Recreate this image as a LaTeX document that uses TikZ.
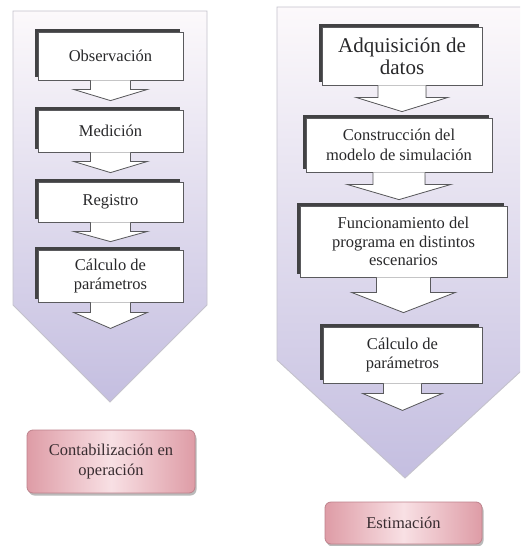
\documentclass[tikz,border=0pt]{standalone}
\usepackage{fontspec}
\setmainfont{Liberation Serif}
\usetikzlibrary{calc,shadows}

\definecolor{panelTop}{RGB}{252,249,251}
\definecolor{panelBottom}{RGB}{196,190,224}
\definecolor{panelEdge}{RGB}{196,194,204}
\definecolor{stepShadow}{RGB}{66,66,68}
\definecolor{stepEdge}{RGB}{90,90,93}
\definecolor{inkGrey}{RGB}{40,40,42}
\definecolor{roseEdge}{RGB}{190,130,140}
\definecolor{roseDark}{RGB}{222,156,166}
\definecolor{roseLight}{RGB}{248,224,228}
\definecolor{roseInk}{RGB}{56,44,48}

\tikzset{
  x=1pt, y=-1pt,
  panel/.style={draw=panelEdge, line width=0.9pt, top color=panelTop, bottom color=panelBottom},
  stepbox/.style={draw=stepEdge, line width=0.8pt, fill=white, text=inkGrey,
    align=center, inner sep=0pt, font=\fontsize{16.5}{19.5}\selectfont,
    drop shadow={shadow xshift=-3.5pt, shadow yshift=3.5pt, fill=stepShadow, opacity=1}},
  bigtext/.style={font=\fontsize{21}{22}\selectfont},
  resultbox/.style={draw=roseEdge, line width=0.8pt, rounded corners=6pt,
    left color=roseDark, right color=roseDark, middle color=roseLight,
    text=roseInk, align=center, inner sep=0pt, font=\fontsize{16.5}{20}\selectfont,
    drop shadow={shadow xshift=1.5pt, shadow yshift=-2.5pt, fill=black!45, opacity=0.6}},
  flowfill/.style={fill=white},
  flowedge/.style={draw=stepEdge, line width=0.8pt, line join=miter},
  flowshadow/.style={fill=stepShadow},
}

% block arrow hanging below node #1, tip at coordinate #2,
% shaft half-width #3, head half-width #4, shaft length #5
\newcommand{\stepflow}[5]{%
  \fill[flowshadow, xshift=-3.5pt, yshift=3pt] let \p1=(#1.south), \p2=(#2) in
    (\x1-#3pt,\y1-3pt) -- (\x1-#3pt,\y1-#5pt) -- (\x1-#4pt,\y1-#5pt) -- (\x1,\y2)
    -- (\x1+#4pt,\y1-#5pt) -- (\x1+#3pt,\y1-#5pt) -- (\x1+#3pt,\y1-3pt) -- cycle;
  \fill[flowfill] let \p1=(#1.south), \p2=(#2) in
    (\x1-#3pt,\y1) -- (\x1-#3pt,\y1-#5pt) -- (\x1-#4pt,\y1-#5pt) -- (\x1,\y2)
    -- (\x1+#4pt,\y1-#5pt) -- (\x1+#3pt,\y1-#5pt) -- (\x1+#3pt,\y1) -- cycle;
  \draw[flowedge] let \p1=(#1.south), \p2=(#2) in
    (\x1-#3pt,\y1) -- (\x1-#3pt,\y1-#5pt) -- (\x1-#4pt,\y1-#5pt) -- (\x1,\y2)
    -- (\x1+#4pt,\y1-#5pt) -- (\x1+#3pt,\y1-#5pt) -- (\x1+#3pt,\y1);
}

\begin{document}
\begin{tikzpicture}
\useasboundingbox[fill=white] (0,0) rectangle (520,546);

\begin{scope}
  \clip (0,0) rectangle (520,546);
  % the two large chevron panels
  \path[panel] (13,11) -- (207,11) -- (207,305) -- (110,402) -- (13,305) -- cycle;
  \path[panel] (277,7) -- (533,7) -- (533,360) -- (405,478) -- (277,360) -- cycle;
\end{scope}

% left column: measurement
\node[stepbox, minimum width=145pt, minimum height=48pt] (obs) at (110.5,56) {Observación};
\node[stepbox, minimum width=145pt, minimum height=42pt] (med) at (110.5,131) {Medición};
\node[stepbox, minimum width=145pt, minimum height=40pt] (reg) at (110.5,202) {Registro};
\node[stepbox, minimum width=145pt, minimum height=52pt] (calL) at (110.5,276) {Cálculo de\\parámetros};
\node[resultbox, minimum width=168pt, minimum height=63pt] (cont) at (111,461.5) {Contabilización en\\operación};

\coordinate (tipL1) at ($(med.north)+(0,-9)$);
\coordinate (tipL2) at ($(reg.north)+(0,-9)$);
\coordinate (tipL3) at ($(calL.north)+(0,-8)$);
\coordinate (tipL4) at ($(calL.south)+(0,26)$);

\stepflow{obs}{tipL1}{20}{37}{9}
\stepflow{med}{tipL2}{20}{37}{9}
\stepflow{reg}{tipL3}{20}{37}{9}
\stepflow{calL}{tipL4}{20}{37}{10}

% right column: simulation
\node[stepbox, bigtext, minimum width=160pt, minimum height=58pt] (adq) at (402,56) {Adquisición de\\datos};
\node[stepbox, minimum width=186pt, minimum height=54pt] (con) at (399,145) {Construcción del\\modelo de simulación};
\node[stepbox, font=\fontsize{16.5}{18.5}\selectfont, minimum width=207pt, minimum height=71pt] (fun) at (403.5,241.5) {Funcionamiento del\\programa en distintos\\escenarios};
\node[stepbox, minimum width=159pt, minimum height=56pt] (calR) at (402.5,355) {Cálculo de\\parámetros};
\node[resultbox, minimum width=157pt, minimum height=42pt] (est) at (403.5,523) {Estimación};

\coordinate (tipR1) at ($(con.north)+(0,-6)$);
\coordinate (tipR2) at ($(fun.north)+(0,-6)$);
\coordinate (tipR3) at ($(calR.north)+(0,-14)$);
\coordinate (tipR4) at ($(calR.south)+(0,27)$);

\stepflow{adq}{tipR1}{24}{46}{12}
\stepflow{con}{tipR2}{26}{52}{12}
\stepflow{fun}{tipR3}{27}{52}{15}
\stepflow{calR}{tipR4}{19}{40}{10}
\end{tikzpicture}
\end{document}
